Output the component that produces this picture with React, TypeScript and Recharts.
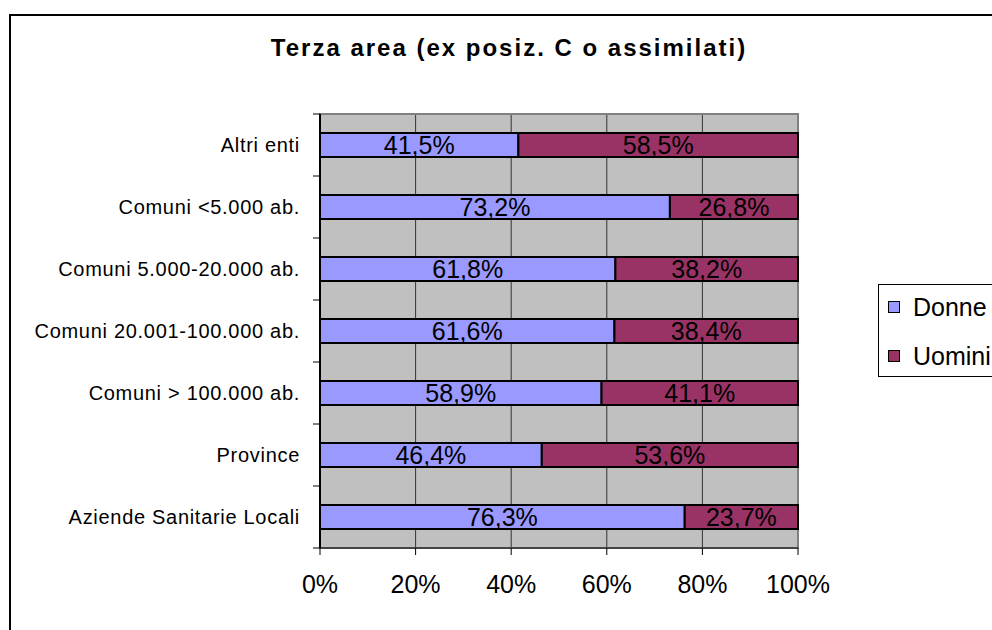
import React from 'react';
import { BarChart, Bar, XAxis, YAxis, CartesianGrid, LabelList, Legend, ReferenceArea } from 'recharts';

const categories = [
  'Altri enti',
  'Comuni <5.000 ab.',
  'Comuni 5.000-20.000 ab.',
  'Comuni 20.001-100.000 ab.',
  'Comuni > 100.000 ab.',
  'Province',
  'Aziende Sanitarie Locali',
];
const donne = [41.5, 73.2, 61.8, 61.6, 58.9, 46.4, 76.3];
const uomini = [58.5, 26.8, 38.2, 38.4, 41.1, 53.6, 23.7];
const xTicks = [0, 20, 40, 60, 80, 100];
const seriesNames = ['Donne', 'Uomini'];
const seriesColors = ['#9999FF', '#993366'];
const title = 'Terza area (ex posiz. C o assimilati)';

const data = categories.map((c, i) => ({ name: c, Donne: donne[i], Uomini: uomini[i] }));

const W = 992;
const H = 630;
const PLOT_LEFT = 320;
const PLOT_RIGHT = 798;
const PLOT_TOP = 114;
const PLOT_BOTTOM = 548;
const BAND = (PLOT_BOTTOM - PLOT_TOP) / categories.length;
const FONT = 'Arial, "Liberation Sans", sans-serif';

const fmt = (v: any) => Number(v).toFixed(1).replace('.', ',') + '%';

const YTick = (props: any) => {
  const { y, payload, index } = props;
  return (
    <g>
      <line x1={PLOT_LEFT - 7} x2={PLOT_LEFT} y1={y - BAND / 2} y2={y - BAND / 2} stroke="#000" strokeWidth={1} />
      {index === categories.length - 1 && (
        <line x1={PLOT_LEFT - 7} x2={PLOT_LEFT} y1={y + BAND / 2} y2={y + BAND / 2} stroke="#000" strokeWidth={1} />
      )}
      <text x={PLOT_LEFT - 20} y={y} textAnchor="end" dominantBaseline="central" fontSize={20} letterSpacing={0.7} fontFamily={FONT} fill="#000">
        {payload.value}
      </text>
    </g>
  );
};

const LegendBox = () => (
  <div
    style={{
      width: 140,
      height: 93,
      border: '1px solid #000',
      background: '#fff',
      fontFamily: FONT,
      fontSize: 25,
      color: '#000',
      position: 'absolute',
      left: 0,
      top: 0,
      boxSizing: 'border-box',
    }}
  >
    {seriesNames.map((n, i) => (
      <div key={n} style={{ position: 'absolute', left: 9, top: 22 + i * 49 - 15, height: 30, display: 'flex', alignItems: 'center' }}>
        <span
          style={{
            display: 'inline-block',
            width: 10,
            height: 10,
            background: seriesColors[i],
            border: '1px solid #000',
            marginRight: 13,
          }}
        />
        <span>{n}</span>
      </div>
    ))}
  </div>
);

export default function App() {
  return (
    <div style={{ position: 'absolute', left: 0, top: 0, width: W, height: H, overflow: 'hidden', background: '#fff' }}>
      <div
        style={{
          position: 'absolute',
          left: 9,
          top: 14,
          width: 1100,
          height: 800,
          border: '2px solid #000',
        }}
      />
      <div
        style={{
          position: 'absolute',
          left: 0,
          width: 1018,
          top: 34,
          textAlign: 'center',
          fontFamily: FONT,
          fontWeight: 'bold',
          fontSize: 24,
          letterSpacing: 2,
          color: '#000',
          lineHeight: '28px',
        }}
      >
        {title}
      </div>
      <div style={{ position: 'absolute', left: 0, top: 0 }}>
        <BarChart
          width={W}
          height={H}
          data={data}
          layout="vertical"
          margin={{ top: PLOT_TOP, left: 0, right: W - PLOT_RIGHT, bottom: H - PLOT_BOTTOM - 50 }}
          barSize={24}
        >
          <CartesianGrid horizontal={false} vertical={true} stroke="#333" strokeWidth={1} fill="#C0C0C0" fillOpacity={1} />
          <ReferenceArea x1={0} x2={100} fill="none" stroke="#808080" strokeWidth={2} ifOverflow="visible" />
          <XAxis
            type="number"
            domain={[0, 100]}
            ticks={xTicks}
            tickFormatter={(v: any) => v + '%'}
            height={50}
            tickSize={7}
            tickMargin={20}
            axisLine={{ stroke: '#444', strokeWidth: 2 }}
            tickLine={{ stroke: '#000' }}
            tick={{ fontSize: 25, fontFamily: FONT, fill: '#000' }}
            interval={0}
          />
          <YAxis
            type="category"
            dataKey="name"
            width={PLOT_LEFT}
            tick={<YTick />}
            tickLine={false}
            axisLine={{ stroke: '#000', strokeWidth: 2 }}
            interval={0}
          />
          <Legend
            content={<LegendBox />}
            wrapperStyle={{ position: 'absolute', left: 878, top: 284, width: 0, height: 0, overflow: 'visible' }}
          />
          {seriesNames.map((n, i) => (
            <Bar key={n} dataKey={n} stackId="a" fill={seriesColors[i]} stroke="#000" strokeWidth={2} isAnimationActive={false}>
              <LabelList dataKey={n} position="center" formatter={fmt} fontSize={25} fontFamily={FONT} fill="#000" />
            </Bar>
          ))}
        </BarChart>
      </div>
    </div>
  );
}
